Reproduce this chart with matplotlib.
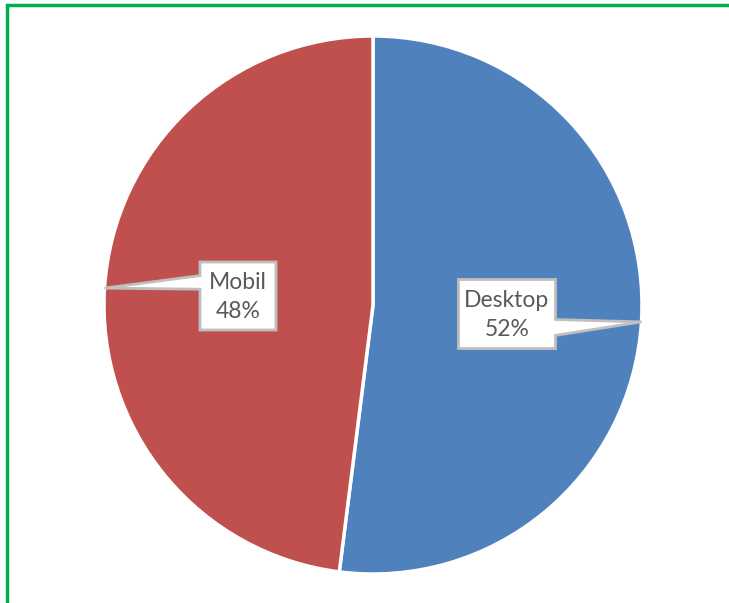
import matplotlib

matplotlib.use("Agg")

import matplotlib.pyplot as plt
import numpy as np
from matplotlib.patches import Polygon, Rectangle

labels = ["Desktop", "Mobil"]
shares = [52, 48]
colors = ["#4F81BD", "#C0504D"]

W, H = 729, 603
CX, CY, R = 373, H - 305, 269

# callout boxes: center (px, y down), width, height, pointer base as fraction of height from top
boxes = {
    "Desktop": dict(center=(507, 314), w=97, h=69, base=(0.58, 0.81)),
    "Mobil": dict(center=(238, 296), w=76, h=68, base=(0.20, 0.40)),
}


def callout(ax, tip, center, w, h, base, text):
    cx, cy = center[0], H - center[1]
    x0, x1 = cx - w / 2, cx + w / 2
    yt, yb = cy + h / 2, cy - h / 2
    b1, b2 = yt - base[0] * h, yt - base[1] * h
    if tip[0] < cx:
        verts = [(x0, yt), (x1, yt), (x1, yb), (x0, yb), (x0, b2), tip, (x0, b1)]
    else:
        verts = [(x0, yt), (x1, yt), (x1, b1), tip, (x1, b2), (x1, yb), (x0, yb)]
    ax.add_patch(Polygon(verts, closed=True, facecolor="white",
                         edgecolor="#BFBFBF", linewidth=2, zorder=5))
    ax.text(cx, cy - 1, text, ha="center", va="center", fontsize=16.5,
            family="Lato", color="#595959", linespacing=1.5, zorder=6)


fig = plt.figure(figsize=(W / 100, H / 100), dpi=100)
ax = fig.add_axes([0, 0, 1, 1])

wedges, _ = ax.pie(shares, colors=colors, startangle=90, counterclock=False,
                   center=(CX, CY), radius=R, frame=True,
                   wedgeprops=dict(edgecolor="white", linewidth=2.5))
ax.set_xlim(0, W)
ax.set_ylim(0, H)
ax.set_aspect("equal")
ax.axis("off")

for wdg, lab, val in zip(wedges, labels, shares):
    mid = np.deg2rad((wdg.theta1 + wdg.theta2) / 2)
    tip = (CX + R * np.cos(mid), CY + R * np.sin(mid))
    b = boxes[lab]
    callout(ax, tip, b["center"], b["w"], b["h"], b["base"], f"{lab}\n{val}%")

# green chart border (right/bottom edges fall outside the image)
ax.add_patch(Rectangle((7, -20), W + 20, H - 5 + 20, fill=False,
                       edgecolor="#00B050", linewidth=2.5, zorder=10))

fig.savefig("out.png", dpi=100)
